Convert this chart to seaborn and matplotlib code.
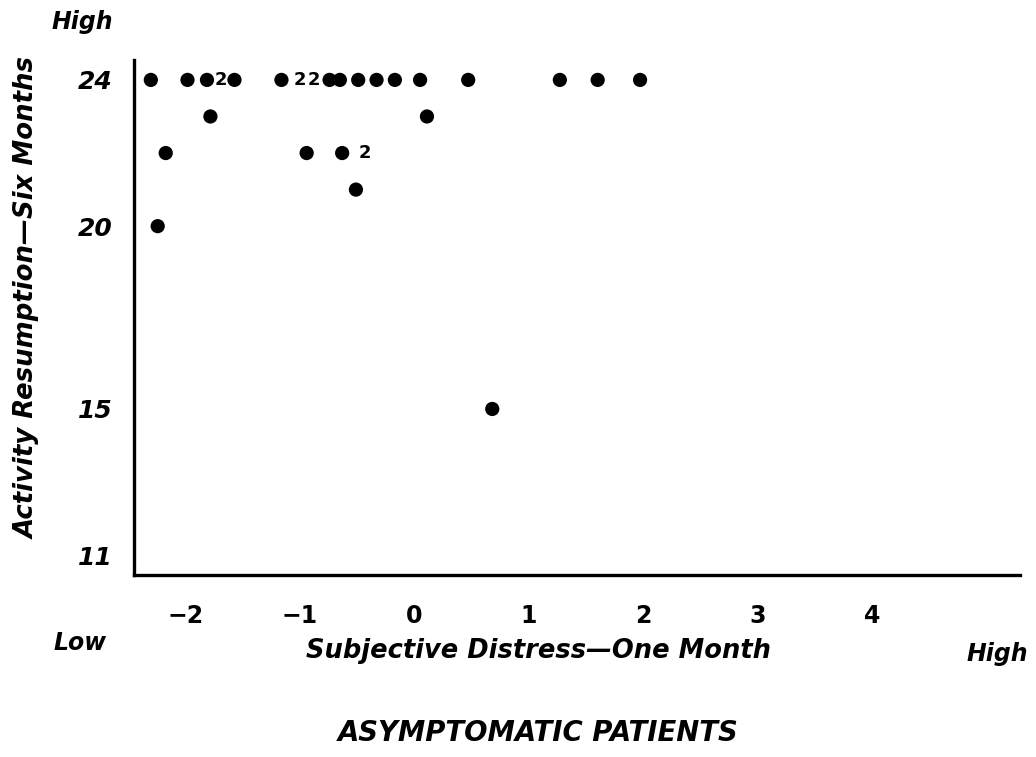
import matplotlib
matplotlib.use("Agg")
import matplotlib.pyplot as plt
import seaborn as sns
import pandas as pd

# ---- data ----
single_x = [-2.30, -1.98, -1.81, -1.57, -1.16, -0.74, -0.65, -0.49, -0.33, -0.17, 0.05, 0.47, 1.27, 1.60, 1.97,
            -1.78, 0.11,
            -2.17, -0.94, -0.63,
            -0.51,
            -2.24,
            0.68]
single_y = [24] * 15 + [23, 23] + [22, 22, 22] + [21] + [20] + [15]
double_x = [-1.69, -1.00, -0.88, -0.43]
double_y = [24, 24, 24, 22]
x_ticks = [-2, -1, 0, 1, 2, 3, 4]
x_tick_labels = ["\u22122", "\u22121", "0", "1", "2", "3", "4"]
y_ticks = [11, 15, 20, 24]
y_tick_labels = ["11", "15", "20", "24"]

sns.set_style("white")
plt.rcParams["font.family"] = ["DejaVu Sans"]

fig = plt.figure(figsize=(10.36, 7.57), dpi=100)
ax = fig.add_axes([0.129, 0.240, 0.856, 0.681])

df = pd.DataFrame({"x": single_x, "y": single_y})
sns.scatterplot(data=df, x="x", y="y", ax=ax, color="black", s=105, edgecolor="none", legend=False)
for xv, yv in zip(double_x, double_y):
    ax.text(xv, yv, "2", ha="center", va="center", fontsize=13, fontweight="bold", color="black")

ax.set_xlim(-2.45, 5.29)
ax.set_ylim(10.45, 24.55)
ax.set_xticks(x_ticks)
ax.set_xticklabels(x_tick_labels, fontsize=17, fontweight="bold", color="black")
ax.set_yticks(y_ticks)
ax.set_yticklabels(y_tick_labels, fontsize=18, fontweight="bold", fontstyle="italic", color="black")
ax.tick_params(axis="x", length=0, pad=21)
ax.tick_params(axis="y", length=0, pad=15)
ax.set_xlabel("")
ax.set_ylabel("")
sns.despine(ax=ax)
for side in ["left", "bottom"]:
    ax.spines[side].set_linewidth(2.4)
    ax.spines[side].set_color("black")

W, H = 1036, 757
def ftext(px, py, s, **kw):
    fig.text(px / W, 1 - py / H, s, ha="center", va="center", color="black",
             fontweight="bold", fontstyle="italic", **kw)

ftext(82, 22, "High", fontsize=17)
ftext(80, 643, "Low", fontsize=17)
ftext(997, 654, "High", fontsize=17)
ftext(539, 651, "Subjective Distress\u2014One Month", fontsize=18.5)
ftext(28, 298, "Activity Resumption\u2014Six Months", fontsize=18.7, rotation=90)
ftext(538, 733, "ASYMPTOMATIC PATIENTS", fontsize=19.8)

fig.savefig("out.png", dpi=100)
